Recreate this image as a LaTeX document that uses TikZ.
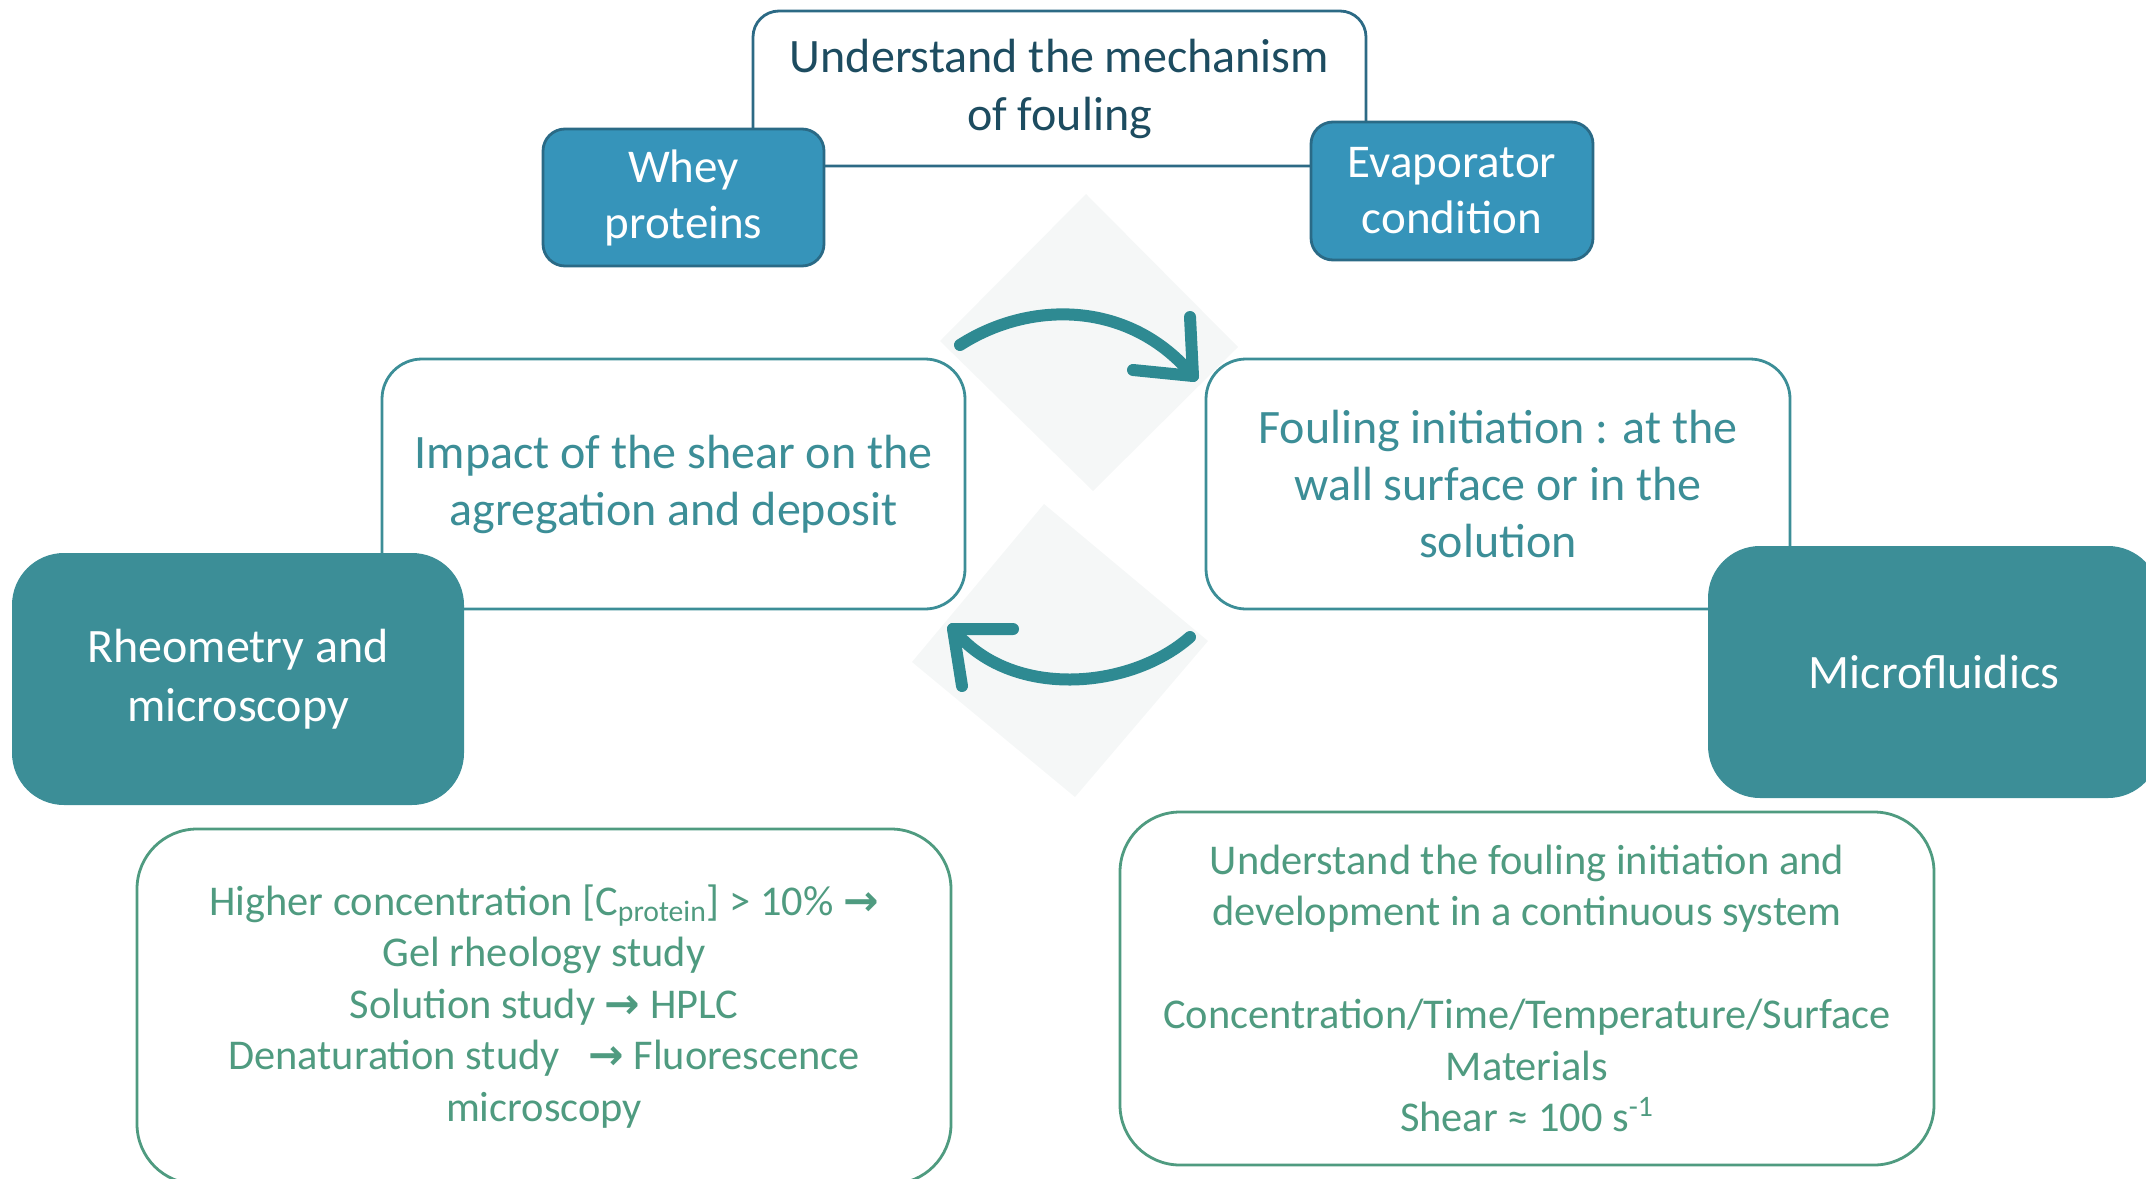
\documentclass[tikz,border=0pt]{standalone}
\usepackage{fontspec}
\setmainfont{Carlito}
\newfontfamily\arrfont{DejaVu Sans}
\definecolor{topline}{HTML}{2C6A85}
\definecolor{toptext}{HTML}{1D4C60}
\definecolor{blueFill}{HTML}{3694BA}
\definecolor{blueLine}{HTML}{2A6A86}
\definecolor{tealC}{HTML}{3C8E97}
\definecolor{greenC}{HTML}{4F9B80}
\definecolor{diamondC}{HTML}{F5F7F7}
\definecolor{arrowC}{HTML}{2E8A92}
\tikzset{
  topbox/.style={draw=topline, line width=1.4pt, fill=white, rounded corners=13pt, text=toptext, align=center, inner sep=0pt, font=\fontsize{24}{29}\selectfont},
  bluebox/.style={draw=blueLine, line width=1.4pt, fill=blueFill, rounded corners=11pt, text=white, align=center, inner sep=0pt, font=\fontsize{23.5}{28}\selectfont},
  midbox/.style={draw=tealC, line width=1.4pt, fill=white, rounded corners=20pt, text=tealC, align=center, inner sep=0pt, font=\fontsize{24}{28.5}\selectfont},
  tealbox/.style={fill=tealC, rounded corners=26pt, text=white, align=center, inner sep=0pt, font=\fontsize{24}{29.5}\selectfont},
  lowbox/.style={draw=greenC, line width=1.4pt, fill=white, rounded corners=30pt, text=greenC, align=center, inner sep=0pt, font=\fontsize{21.2}{25.75}\selectfont},
  diam/.style={fill=diamondC},
  cyc/.style={draw=arrowC, line width=6pt, line cap=round, line join=round},
}
\newcommand{\rarr}{{\arrfont\bfseries →}}
\begin{document}
\begin{tikzpicture}[x=0.5pt,y=-0.5pt]
\useasboundingbox (0,0) rectangle (2146,1178);
% background diamonds
\fill[diam] (1086,194) -- (1238,347) -- (1093,491) -- (940,341) -- cycle;
\fill[diam] (1044,504) -- (1208,641) -- (1075,797) -- (912,662) -- cycle;
% top group
\node[topbox, minimum width=306.5pt, minimum height=77.5pt] (goal) at (1059.5,88.5) {Understand the mechanism\\of fouling};
\node[bluebox, minimum width=140.5pt, minimum height=68.5pt] (whey) at (683.5,197.5) {Whey\\proteins};
\node[bluebox, minimum width=141pt, minimum height=69pt] (evap) at (1452,191) {Evaporator\\condition};
% middle boxes
\node[midbox, minimum width=291.5pt, minimum height=125pt] (shear) at (673.5,484) {Impact of the shear on the\\agregation and deposit};
\node[midbox, minimum width=292pt, minimum height=125pt] (init) at (1498,484) {Fouling initiation : at the\\wall surface or in the\\solution};
\node[tealbox, minimum width=226pt, minimum height=126pt] (rheo) at (238,679) {Rheometry and\\microscopy};
\node[tealbox, minimum width=226pt, minimum height=126pt] (micro) at (1934,672) {Microfluidics};
% bottom boxes
\node[lowbox, minimum width=407pt, minimum height=177.5pt] (rheodet) at (544,1006.5) {Higher concentration [C\textsubscript{protein}] > 10\% \rarr\\Gel rheology study\\Solution study \rarr\ HPLC\\Denaturation study\ \ \ \rarr\ Fluorescence\\microscopy};
\node[lowbox, minimum width=407pt, minimum height=176.5pt] (microdet) at (1527,988.5) {Understand the fouling initiation and\\development in a continuous system\\[25.75pt]Concentration/Time/Temperature/Surface\\Materials\\Shear ≈ 100 s\textsuperscript{-1}};
% cycle arrows
\coordinate (a1s) at (960,345);
\coordinate (a1t) at (1193,376);
\coordinate (a1u) at (1190,317);
\coordinate (a1l) at (1133,370);
\draw[cyc] (a1s) .. controls (1030,300) and (1130,300) .. (a1t);
\draw[cyc] (a1u) -- (a1t) -- (a1l);
\coordinate (a2s) at (1190,637);
\coordinate (a2t) at (953,629);
\coordinate (a2r) at (1013,629);
\coordinate (a2d) at (962,686);
\draw[cyc] (a2s) .. controls (1130,690) and (1010,700) .. (a2t);
\draw[cyc] (a2r) -- (a2t) -- (a2d);
\end{tikzpicture}
\end{document}
